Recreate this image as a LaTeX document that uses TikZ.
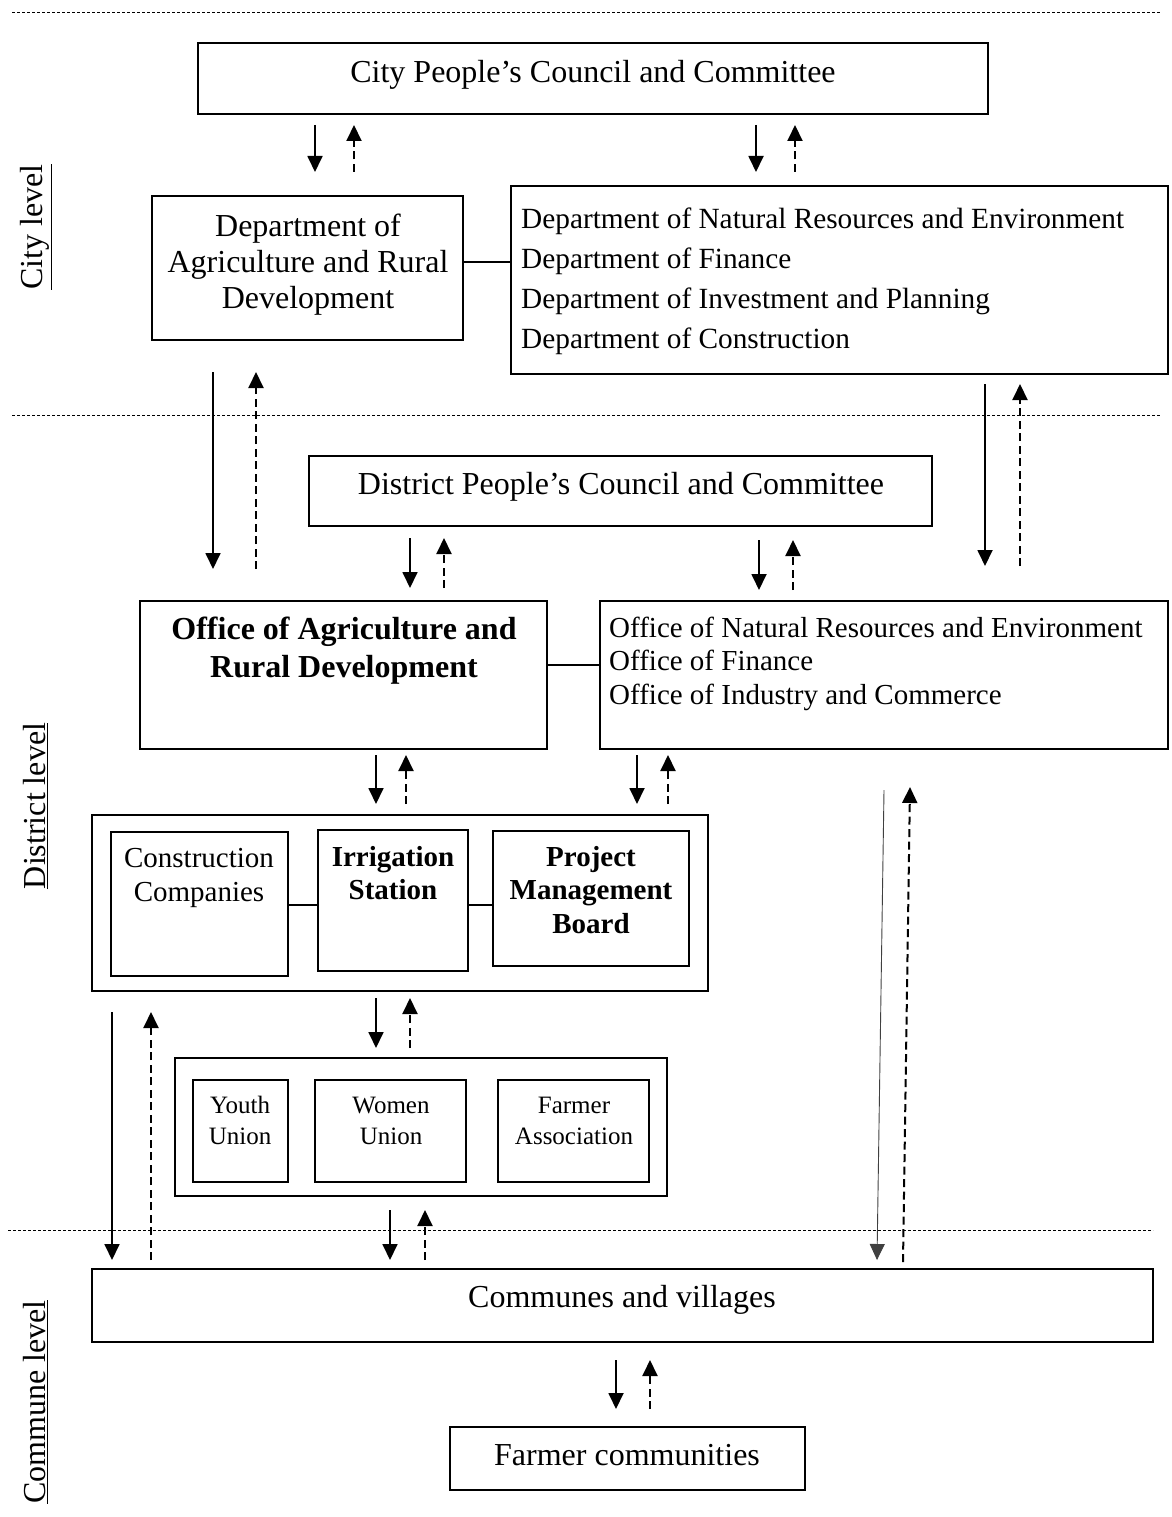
\documentclass[tikz,border=0pt]{standalone}
\usepackage{fontspec}
\setmainfont{Liberation Serif}
\usetikzlibrary{arrows.meta}

% a solid "instruction" arrow and a dashed "report" arrow side by side
\newcommand\arrowpair[5]{% #1 name, #2 x of solid, #3 x of dashed, #4 top y, #5 bottom y
  \coordinate (#1-st) at (#2,#4); \coordinate (#1-sb) at (#2,#5);
  \coordinate (#1-dt) at (#3,#4); \coordinate (#1-db) at (#3,#5);
  \draw[down] (#1-st) -- (#1-sb);
  \draw[up] (#1-db) -- (#1-dt);}

\begin{document}
\begin{tikzpicture}[x=1pt,y=-1pt,
  box/.style={draw,line width=1.8pt,inner sep=0pt},
  txt/.style={inner sep=0pt,align=center,anchor=base},
  big/.style={font=\fontsize{32}{36}\selectfont},
  small/.style={font=\fontsize{25}{31}\selectfont},
  tip/.style={-{Triangle[width=15pt,length=16pt]}},
  down/.style={tip,line width=1.8pt},
  up/.style={tip,line width=2pt,dash pattern=on 8pt off 4.5pt},
  link/.style={line width=1.6pt},
  sep/.style={line width=0.8pt,dash pattern=on 3pt off 2pt},
  side/.style={rotate=90,inner sep=0pt,font=\fontsize{32}{36}\selectfont}]

\useasboundingbox (0,0) rectangle (1171,1517);

% level separators
\coordinate (s1a) at (12,12);   \coordinate (s1b) at (1160,12);
\coordinate (s2a) at (12,415);  \coordinate (s2b) at (1160,415);
\coordinate (s3a) at (8,1230);  \coordinate (s3b) at (1153,1230);
\draw[sep] (s1a) -- (s1b);
\draw[sep] (s2a) -- (s2b);
\draw[sep] (s3a) -- (s3b);

% level names
\node[side] (lcity) at (36,227) {\underline{City level}};
\node[side] (ldist) at (36,806) {\underline{District level}};
\node[side] (lcomm) at (36,1402) {\underline{Commune level}};

% ---- city level ----
\node[box,minimum width=790pt,minimum height=71pt] (cc) at (593,78.5) {};
\node[txt,big] (cct) at (593,83) {City People’s Council and Committee};

\node[box,minimum width=311pt,minimum height=144pt] (dagri) at (307.5,268) {};
\node[txt,big] (dagrit) at (308,308)
  {Department of\\Agriculture and Rural\\Development};

\node[box,minimum width=657pt,minimum height=188pt] (dother) at (839.5,280) {};
\node[txt,align=left,anchor=base west,font=\fontsize{29.3}{40}\selectfont] (dothert) at (521,348)
  {Department of Natural Resources and Environment\\Department of Finance\\
   Department of Investment and Planning\\Department of Construction};

\draw[link] ([yshift=6pt]dagri.east) -- ([yshift=6pt]dagri.east -| dother.west);

% ---- district level ----
\node[box,minimum width=623pt,minimum height=70pt] (dc) at (620.5,491) {};
\node[txt,big] (dct) at (621,494) {District People’s Council and Committee};

\node[box,minimum width=407pt,minimum height=148pt] (oagri) at (343.5,675) {};
\node[txt,font=\fontsize{32}{38}\selectfont\bfseries] (oagrit) at (344,677)
  {Office of Agriculture and\\Rural Development};

\node[box,minimum width=568pt,minimum height=148pt] (oother) at (884,675) {};
\node[txt,align=left,anchor=base west,font=\fontsize{29}{33.5}\selectfont] (oothert) at (609,704)
  {Office of Natural Resources and Environment\\Office of Finance\\Office of Industry and Commerce};

\draw[link] ([yshift=10pt]oagri.east) -- ([yshift=10pt]oagri.east -| oother.west);

\node[box,minimum width=616pt,minimum height=176pt] (grp) at (400,903) {};
\node[box,minimum width=177pt,minimum height=144pt] (cons) at (199.5,904) {};
\node[txt,font=\fontsize{29}{34}\selectfont] (const) at (199,901) {Construction\\Companies};
\node[box,minimum width=150pt,minimum height=141pt] (irr) at (393,900.5) {};
\node[txt,font=\fontsize{29}{33}\selectfont\bfseries] (irrt) at (393,899) {Irrigation\\Station};
\node[box,minimum width=196pt,minimum height=135pt] (pmb) at (591,898.5) {};
\node[txt,font=\fontsize{29}{33.5}\selectfont\bfseries] (pmbt) at (591,933) {Project\\Management\\Board};

\draw[link] ([yshift=-1pt]cons.east) -- ([yshift=-1pt]cons.east -| irr.west);
\draw[link] ([yshift=-4.5pt]irr.east) -- ([yshift=-4.5pt]irr.east -| pmb.west);

\node[box,minimum width=492pt,minimum height=138pt] (ugrp) at (421,1127) {};
\node[box,minimum width=95pt,minimum height=102pt] (youth) at (240.5,1131) {};
\node[txt,small] (youtht) at (240,1144) {Youth\\Union};
\node[box,minimum width=151pt,minimum height=102pt] (women) at (390.5,1131) {};
\node[txt,small] (woment) at (391,1144) {Women\\Union};
\node[box,minimum width=151pt,minimum height=102pt] (fa) at (573.5,1131) {};
\node[txt,small] (fat) at (574,1144) {Farmer\\Association};

% ---- commune level ----
\node[box,minimum width=1061pt,minimum height=73pt] (cv) at (622.5,1305.5) {};
\node[txt,big] (cvt) at (622,1307) {Communes and villages};

\node[box,minimum width=355pt,minimum height=63pt] (fc) at (627.5,1458.5) {};
\node[txt,big] (fct) at (627,1465) {Farmer communities};

% ---- flows ----
\arrowpair{a1}{315}{354}{125}{172}
\arrowpair{a2}{756}{795}{125}{172}
\arrowpair{a3}{213}{256}{372}{569}
\arrowpair{a4}{985}{1020}{384}{566}
\arrowpair{a5}{410}{444}{538}{588}
\arrowpair{a6}{759}{793}{540}{590}
\arrowpair{a7}{376}{406}{755}{804}
\arrowpair{a8}{637}{668}{755}{804}
\arrowpair{a9}{376}{410}{998}{1048}
\arrowpair{a10}{112}{151}{1012}{1260}
\arrowpair{a11}{390}{425}{1210}{1260}
\arrowpair{a12}{616}{650}{1360}{1409}

\coordinate (r-st) at (884,790);  \coordinate (r-sb) at (877,1260);
\coordinate (r-dt) at (910,787);  \coordinate (r-db) at (903,1262);
\draw[tip,line width=0.9pt,black!75] (r-st) -- (r-sb);
\draw[up] (r-db) -- (r-dt);

\end{tikzpicture}
\end{document}
